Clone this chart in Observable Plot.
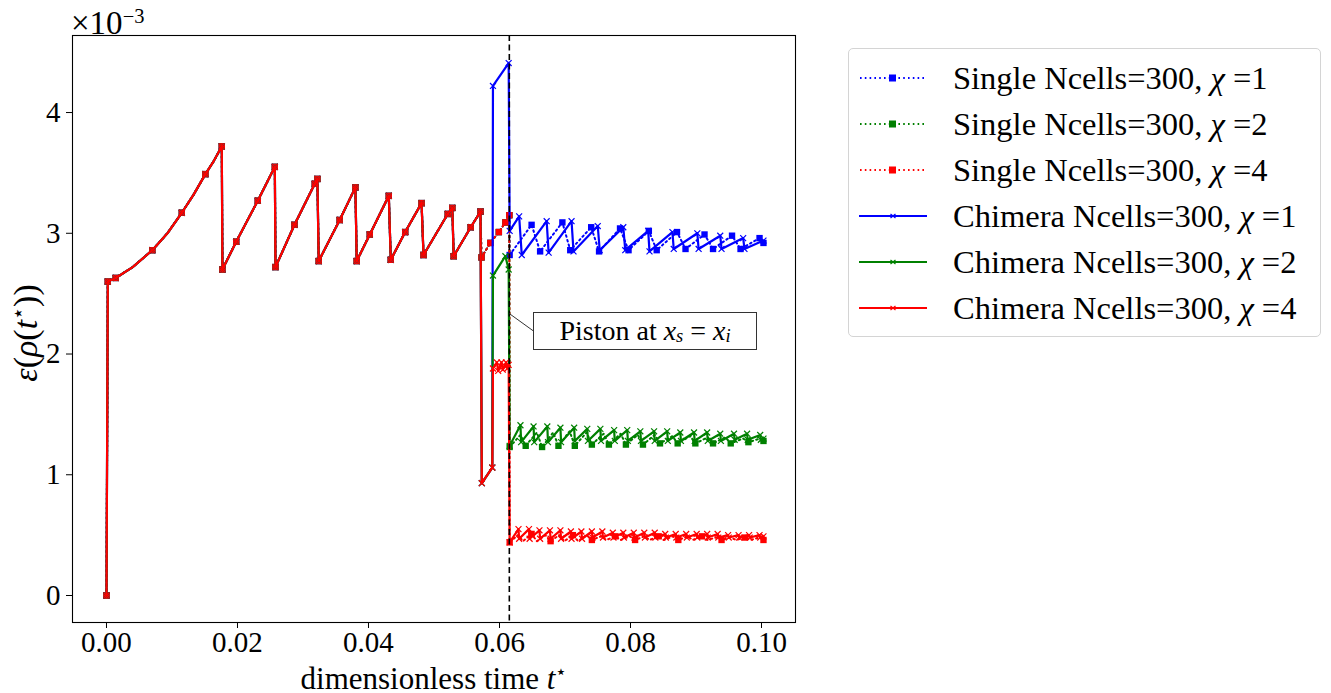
<!DOCTYPE html>
<html><head><meta charset="utf-8">
<script src="https://cdn.jsdelivr.net/npm/d3@7"></script>
<script src="https://cdn.jsdelivr.net/npm/@observablehq/plot@0.6"></script>
<style>
body{margin:0;background:#fff;}
#wrap{position:relative;width:1331px;height:693px;font-family:"Liberation Serif",serif;color:#000;}
.ov{position:absolute;white-space:nowrap;line-height:1;}
#legend{position:absolute;left:848px;top:48px;width:471px;height:287px;border:1px solid #d4d4d4;border-radius:5px;background:rgba(255,255,255,0.85);}
.row{position:absolute;left:0;height:40px;display:flex;align-items:center;font-size:32.5px;}
.row svg{margin-left:10px;margin-right:26px;}
#anno{position:absolute;border:1.3px solid #333;background:#fff;font-size:28px;display:flex;align-items:center;justify-content:center;box-sizing:border-box;white-space:nowrap;line-height:1;}
sup{font-size:62%;vertical-align:0.55em;line-height:0;}
.sb{font-size:66%;position:relative;top:0.3em;}
</style></head><body><div id="wrap"></div><script>
// ---------- data (value units: 1e-3) ----------
const xTicks = [0.00, 0.02, 0.04, 0.06, 0.08, 0.10];
const yTicks = [0, 1, 2, 3, 4];

// shared path of every series before the piston event (commonMark: 1 = marker drawn)
const commonT = [0, 0.0002, 0.0014, 0.0040, 0.0070, 0.0093, 0.0115, 0.0133, 0.0151, 0.0164, 0.0176, 0.0177, 0.0198, 0.0231, 0.0257, 0.0258, 0.0287, 0.0318, 0.0322, 0.0324, 0.0356, 0.0380, 0.0382, 0.0402, 0.0431, 0.0434, 0.0456, 0.0481, 0.0484, 0.0521, 0.0528, 0.0530, 0.0556, 0.0571];
const commonV = [0, 2.60, 2.63, 2.72, 2.86, 3.00, 3.17, 3.32, 3.49, 3.60, 3.72, 2.70, 2.93, 3.27, 3.55, 2.72, 3.07, 3.41, 3.45, 2.77, 3.11, 3.38, 2.77, 2.99, 3.31, 2.78, 3.01, 3.25, 2.82, 3.16, 3.21, 2.81, 3.05, 3.18];
const commonMark = [1, 1, 1, 0, 1, 0, 1, 0, 1, 0, 1, 1, 1, 1, 1, 1, 1, 1, 1, 1, 1, 1, 1, 1, 1, 1, 1, 1, 1, 1, 1, 1, 1, 1];

// Single: shared continuation up to the dashed line
const singlePreT = [0.05725, 0.0586, 0.0599, 0.0609, 0.0615];
const singlePreV = [2.80, 2.92, 3.01, 3.09, 3.15];

const singleBlueT = [0.06155, 0.0649, 0.0662, 0.0696, 0.0708, 0.0740, 0.0752, 0.0784, 0.0797, 0.0828, 0.0840, 0.0871, 0.0884, 0.0913, 0.0926, 0.0955, 0.0968, 0.0997, 0.1003];
const singleBlueV = [2.82, 3.07, 2.85, 3.09, 2.86, 3.05, 2.85, 3.04, 2.86, 3.02, 2.86, 3.01, 2.87, 2.99, 2.87, 2.98, 2.87, 2.96, 2.92];

const singleGreenT = [0.06155, 0.0632, 0.0640, 0.0657, 0.0665, 0.0682, 0.0690, 0.0707, 0.0715, 0.0733, 0.0741, 0.0759, 0.0767, 0.0785, 0.0793, 0.0811, 0.0819, 0.0837, 0.0845, 0.0864, 0.0872, 0.0891, 0.0899, 0.0918, 0.0926, 0.0945, 0.0953, 0.0972, 0.0980, 0.0998, 0.1003];
const singleGreenV = [1.23, 1.33, 1.24, 1.35, 1.23, 1.35, 1.24, 1.36, 1.24, 1.35, 1.25, 1.34, 1.25, 1.34, 1.25, 1.33, 1.25, 1.33, 1.26, 1.32, 1.26, 1.32, 1.26, 1.31, 1.26, 1.31, 1.26, 1.30, 1.27, 1.30, 1.28];

const singleRedT = [0.06155, 0.0628, 0.0636, 0.0649, 0.0657, 0.0670, 0.0678, 0.0691, 0.0699, 0.0712, 0.0720, 0.0733, 0.0741, 0.0755, 0.0763, 0.0777, 0.0785, 0.0799, 0.0807, 0.0821, 0.0829, 0.0843, 0.0851, 0.0865, 0.0873, 0.0887, 0.0895, 0.0909, 0.0917, 0.0931, 0.0939, 0.0953, 0.0961, 0.0975, 0.0983, 0.0997, 0.1003];
const singleRedV = [0.44, 0.50, 0.45, 0.51, 0.45, 0.50, 0.45, 0.50, 0.45, 0.50, 0.45, 0.50, 0.46, 0.49, 0.46, 0.49, 0.46, 0.49, 0.46, 0.49, 0.46, 0.49, 0.46, 0.49, 0.46, 0.49, 0.46, 0.49, 0.46, 0.48, 0.46, 0.48, 0.46, 0.48, 0.46, 0.48, 0.46];

// Chimera: shared dip, then separation
const chimDipT = [0.0573, 0.0589];
const chimDipV = [0.93, 1.06];

const chimBlueT = [0.0590, 0.0614, 0.06155, 0.0630, 0.0634, 0.0672, 0.0675, 0.0710, 0.0713, 0.0750, 0.0753, 0.0789, 0.0792, 0.0827, 0.0829, 0.0864, 0.0866, 0.0902, 0.0904, 0.0937, 0.0939, 0.0972, 0.0974, 0.1003];
const chimBlueV = [4.22, 4.41, 3.02, 3.14, 2.82, 3.10, 2.84, 3.10, 2.85, 3.06, 2.86, 3.05, 2.86, 3.02, 2.85, 3.01, 2.87, 3.00, 2.87, 2.98, 2.87, 2.96, 2.87, 2.94];

const chimGreenT = [0.0590, 0.0609, 0.0614, 0.06155, 0.0632, 0.0633, 0.0652, 0.0653, 0.0673, 0.0674, 0.0693, 0.0694, 0.0714, 0.0715, 0.0734, 0.0735, 0.0754, 0.0755, 0.0775, 0.0776, 0.0795, 0.0796, 0.0815, 0.0816, 0.0836, 0.0837, 0.0856, 0.0857, 0.0876, 0.0877, 0.0897, 0.0898, 0.0917, 0.0918, 0.0937, 0.0938, 0.0958, 0.0959, 0.0978, 0.0979, 0.0998, 0.0999, 0.1003];
const chimGreenV = [2.65, 2.81, 2.70, 1.24, 1.41, 1.27, 1.40, 1.27, 1.40, 1.27, 1.39, 1.27, 1.39, 1.28, 1.38, 1.28, 1.38, 1.28, 1.37, 1.28, 1.37, 1.28, 1.36, 1.28, 1.36, 1.28, 1.36, 1.28, 1.35, 1.28, 1.35, 1.28, 1.35, 1.28, 1.34, 1.28, 1.34, 1.29, 1.34, 1.29, 1.33, 1.29, 1.30];

const chimRedT = [0.0590, 0.0596, 0.0598, 0.0603, 0.0605, 0.0610, 0.0612, 0.0614, 0.06155, 0.0629, 0.0630, 0.0645, 0.0646, 0.0661, 0.0662, 0.0677, 0.0678, 0.0693, 0.0694, 0.0709, 0.0710, 0.0725, 0.0726, 0.0741, 0.0742, 0.0757, 0.0758, 0.0773, 0.0774, 0.0789, 0.0790, 0.0805, 0.0806, 0.0821, 0.0822, 0.0837, 0.0838, 0.0853, 0.0854, 0.0869, 0.0870, 0.0885, 0.0886, 0.0901, 0.0902, 0.0917, 0.0918, 0.0933, 0.0934, 0.0949, 0.0950, 0.0965, 0.0966, 0.0981, 0.0982, 0.0997, 0.0998, 0.1003];
const chimRedV = [1.88, 1.93, 1.86, 1.93, 1.87, 1.93, 1.88, 1.91, 0.44, 0.55, 0.47, 0.55, 0.47, 0.54, 0.47, 0.54, 0.47, 0.54, 0.47, 0.53, 0.47, 0.53, 0.47, 0.53, 0.48, 0.53, 0.48, 0.52, 0.48, 0.52, 0.48, 0.52, 0.48, 0.52, 0.48, 0.52, 0.48, 0.51, 0.48, 0.51, 0.48, 0.51, 0.48, 0.51, 0.48, 0.51, 0.48, 0.51, 0.48, 0.50, 0.48, 0.50, 0.48, 0.50, 0.48, 0.50, 0.48, 0.49];

const pistonT = 0.0615;
const annotation = {tipT: 0.0615, tipV: 2.335, boxT1: 0.0652, boxT2: 0.0994, boxV1: 2.03, boxV2: 2.34, lineEndV: 2.19, text: "Piston at"};

const labels = ["Single Ncells=300, χ =1", "Single Ncells=300, χ =2", "Single Ncells=300, χ =4", "Chimera Ncells=300, χ =1", "Chimera Ncells=300, χ =2", "Chimera Ncells=300, χ =4"];
const colors = ["#0000ff", "#008000", "#ff0000"];

// ---------- build tables ----------
function build(T, V, tailStart, every) {
  return T.map((t, i) => ({t, v: V[i], m: i < commonT.length ? commonMark[i] === 1 : (i < tailStart || ((i - tailStart) % every === 0))}));
}
function singleSeries(tT, tV, every) {
  const T = commonT.concat(singlePreT, tT), V = commonV.concat(singlePreV, tV);
  return build(T, V, commonT.length + singlePreT.length, every);
}
function chimSeries(tT, tV) {
  const T = commonT.concat(chimDipT, tT), V = commonV.concat(chimDipV, tV);
  return build(T, V, 0, 1);
}
const singles = [singleSeries(singleBlueT, singleBlueV, 1), singleSeries(singleGreenT, singleGreenV, 2), singleSeries(singleRedT, singleRedV, 3)];
const chims = [chimSeries(chimBlueT, chimBlueV), chimSeries(chimGreenT, chimGreenV), chimSeries(chimRedT, chimRedV)];

const marks = [];
singles.forEach((d, k) => {
  marks.push(Plot.line(d, {x: "t", y: "v", stroke: colors[k], strokeWidth: 2, strokeDasharray: "1.6,3.2"}));
  marks.push(Plot.dot(d.filter(p => p.m), {x: "t", y: "v", symbol: "square", r: 3.6, fill: colors[k], stroke: "none"}));
});
chims.forEach((d, k) => {
  marks.push(Plot.line(d, {x: "t", y: "v", stroke: colors[k], strokeWidth: 2.2}));
  marks.push(Plot.dot(d.filter(p => p.m), {x: "t", y: "v", symbol: "times", r: 2.8, stroke: colors[k], strokeWidth: 1.2}));
});

const chart = Plot.plot({
  width: 1331, height: 693,
  marginLeft: 72, marginRight: 536, marginTop: 35, marginBottom: 71,
  x: {domain: [-0.00519, 0.10519]},
  y: {domain: [-0.2236, 4.638]},
  style: {fontFamily: "Liberation Serif", fontSize: "29px", color: "black", background: "white", overflow: "visible"},
  marks: [
    ...marks,
    Plot.ruleX([pistonT], {stroke: "black", strokeWidth: 1.6, strokeDasharray: "6,3.5"}),
    Plot.link([annotation], {x1: "tipT", y1: "tipV", x2: "boxT1", y2: "lineEndV", stroke: "#333", strokeWidth: 1}),
    Plot.frame({stroke: "black", strokeWidth: 1.1}),
    Plot.axisX({ticks: xTicks, tickFormat: d3.format(".2f"), tickSize: 6, tickPadding: 3, label: null, stroke: "black"}),
    Plot.axisY({ticks: yTicks, tickFormat: d => String(d), tickSize: 6, tickPadding: 6, label: null, stroke: "black"})
  ]
});
const wrap = document.getElementById("wrap");
wrap.appendChild(chart);

function ov(html, css) { const e = document.createElement("div"); e.className = "ov"; e.innerHTML = html; Object.assign(e.style, css); wrap.appendChild(e); return e; }
ov("×10<sup>−3</sup>", {left: "71px", top: "7px", fontSize: "33px"});
ov("dimensionless time <i>t</i><sup>⋆</sup>", {left: "434px", top: "678px", fontSize: "31px", transform: "translate(-50%,-50%)"});
ov("<i>ε</i>(<i>ρ</i>(<i>t</i><sup>⋆</sup>))", {left: "26px", top: "333px", fontSize: "34px", transform: "translate(-50%,-50%) rotate(-90deg)"});

// annotation box positioned through the chart scales
const sx = chart.scale("x"), sy = chart.scale("y");
const a = document.createElement("div"); a.id = "anno";
const ax1 = sx.apply(annotation.boxT1), ax2 = sx.apply(annotation.boxT2), ay1 = sy.apply(annotation.boxV2), ay2 = sy.apply(annotation.boxV1);
Object.assign(a.style, {left: ax1 + "px", top: ay1 + "px", width: (ax2 - ax1) + "px", height: (ay2 - ay1) + "px"});
a.innerHTML = annotation.text + "&nbsp;<i>x</i><span class='sb'><i>s</i></span>&nbsp;=&nbsp;<i>x</i><span class='sb'><i>i</i></span>";
wrap.appendChild(a);

// legend
const lg = document.createElement("div"); lg.id = "legend"; wrap.appendChild(lg);
labels.forEach((lab, i) => {
  const c = colors[i % 3], single = i < 3;
  const r = document.createElement("div"); r.className = "row"; r.style.top = (9 + i * 46) + "px";
  const line = single
    ? `<line x1="1" y1="10" x2="68" y2="10" stroke="${c}" stroke-width="2" stroke-dasharray="1.6,3.2"/><rect x="30" y="6.5" width="7" height="7" fill="${c}"/>`
    : `<line x1="0" y1="10" x2="68" y2="10" stroke="${c}" stroke-width="2.2"/><path d="M31.5,8L36.5,12M31.5,12L36.5,8" stroke="${c}" stroke-width="1.2"/>`;
  const txt = lab.replace("χ", "<i>χ</i>");
  r.innerHTML = `<svg width="68" height="20">${line}</svg><span>${txt}</span>`;
  lg.appendChild(r);
});
</script></body></html>
